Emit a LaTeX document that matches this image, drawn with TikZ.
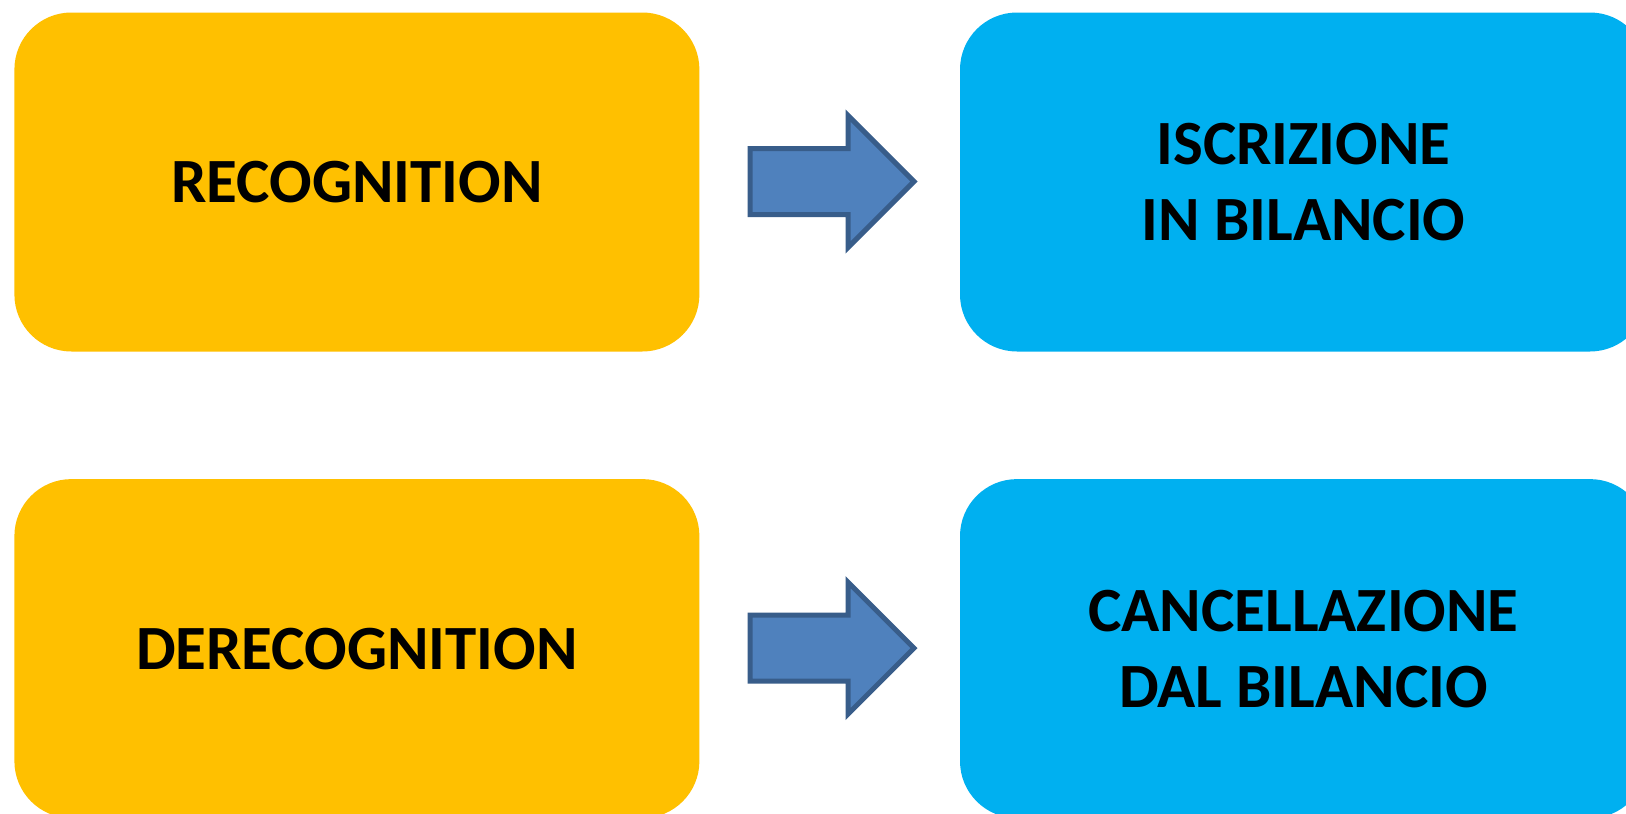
\documentclass[tikz,border=0pt]{standalone}
\usepackage{fontspec}
\setmainfont{Carlito}
\definecolor{boxyellow}{HTML}{FFC000}
\definecolor{boxblue}{HTML}{00B0F0}
\definecolor{arrowfill}{HTML}{4F81BD}
\definecolor{arrowline}{HTML}{385D8A}
\tikzset{
  termbox/.style={rectangle, rounded corners=57pt, minimum width=685pt,
    minimum height=339pt, inner sep=0pt, align=center,
    font=\fontsize{63}{76}\selectfont\bfseries, text=black},
  srcbox/.style={termbox, fill=boxyellow},
  dstbox/.style={termbox, fill=boxblue, minimum width=687pt},
  blockarrow/.style={fill=arrowfill, draw=arrowline, line width=5pt, line join=miter}
}
\begin{document}
\begin{tikzpicture}[x=1pt, y=-1pt]
  \path[use as bounding box] (0,0) rectangle (1626,814);
  \clip (0,0) rectangle (1626,814);
  \fill[white] (0,0) rectangle (1626,814);

  % upper row
  \node[srcbox] (rec) at (356.9,182) {RECOGNITION};
  \node[dstbox] (iscr) at (1303.5,182) {ISCRIZIONE\\IN BILANCIO};
  % lower row
  \node[srcbox] (derec) at (356.9,648.6) {DERECOGNITION};
  \node[dstbox] (canc) at (1303.5,648.6) {CANCELLAZIONE\\DAL BILANCIO};

  % block arrows between the columns
  \foreach \dy in {0,466.6}{
    \draw[blockarrow]
      (750,148.5+\dy) -- (848,148.5+\dy) -- (848,115.5+\dy) -- (914,181.5+\dy)
      -- (848,247.5+\dy) -- (848,214.5+\dy) -- (750,214.5+\dy) -- cycle;
  }
\end{tikzpicture}
\end{document}
